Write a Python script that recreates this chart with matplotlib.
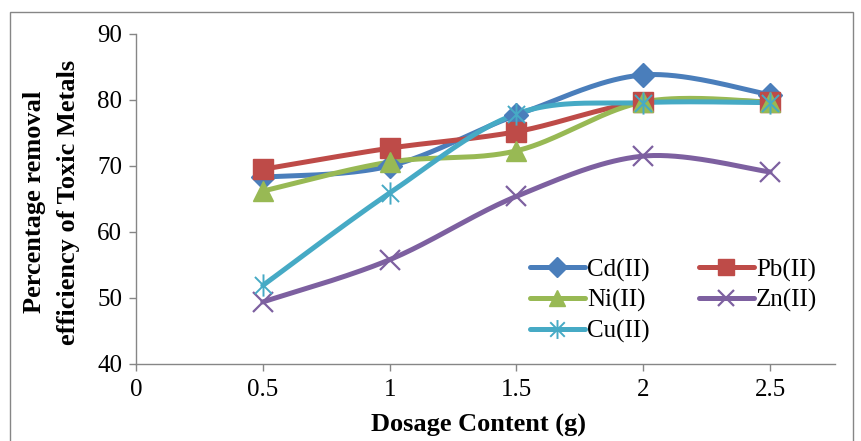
import numpy as np
import matplotlib
matplotlib.use("Agg")
import matplotlib.pyplot as plt
from matplotlib.path import Path
from matplotlib.patches import Rectangle

plt.rcParams['font.family'] = ['Liberation Serif', 'DejaVu Serif']

dosage = [0.5, 1.0, 1.5, 2.0, 2.5]
cd = [68.3, 70.0, 77.7, 83.8, 80.8]
pb = [69.5, 72.7, 75.2, 79.7, 79.7]
ni = [66.2, 70.6, 72.3, 79.7, 79.7]
zn = [49.4, 55.8, 65.4, 71.5, 69.1]
cu = [51.9, 65.9, 77.9, 79.6, 79.6]

series = [
    ("Cd(II)", cd, "#4A7EBB", "D", 12, 0),
    ("Pb(II)", pb, "#BE4B48", "s", 14, 0),
    ("Ni(II)", ni, "#98B954", "^", 14, 0),
    ("Zn(II)", zn, "#7D60A0", "x", 14, 1.6),
    ("Cu(II)", cu, "#46AAC5", None, 16, 1.4),
]

# asterisk marker: an X with a vertical stroke
ast = Path([(-1, -1), (1, 1), (-1, 1), (1, -1), (0, -1.3), (0, 1.3)],
           [Path.MOVETO, Path.LINETO, Path.MOVETO, Path.LINETO, Path.MOVETO, Path.LINETO])


def smooth(x, y, n=40):
    """Spreadsheet-style smoothed line through the points (cubic Bezier)."""
    p = np.column_stack([x, y]).astype(float)
    pts = np.vstack([p[0], p, p[-1]])
    out = []
    t = np.linspace(0, 1, n)[:, None]
    for i in range(1, len(pts) - 2):
        p0, p1 = pts[i], pts[i + 1]
        c1 = p0 + (pts[i + 1] - pts[i - 1]) / 6
        c2 = p1 - (pts[i + 2] - pts[i]) / 6
        seg = ((1 - t) ** 3) * p0 + 3 * ((1 - t) ** 2) * t * c1 + 3 * (1 - t) * t ** 2 * c2 + t ** 3 * p1
        out.append(seg if i == 1 else seg[1:])
    s = np.vstack(out)
    return s[:, 0], s[:, 1]


fig = plt.figure(figsize=(8.61, 4.41), dpi=100)
ax = fig.add_axes([136 / 861, 1 - 364 / 441, (835 - 136) / 861, (364 - 34) / 441])

handles = {}
for name, vals, color, mk, ms, mew in series:
    sx, sy = smooth(dosage, vals)
    ax.plot(sx, sy, color=color, lw=3.6, solid_capstyle='round', zorder=2)
    marker = ast if mk is None else mk
    ax.plot(dosage, vals, linestyle='none', marker=marker, ms=ms,
            color=color, mec=color, mew=mew if mew else 1, zorder=3)
    h, = ax.plot([], [], color=color, lw=3.6, solid_capstyle='round',
                 marker=marker, ms=ms * 0.85, mec=color, mew=mew if mew else 1)
    handles[name] = h

order = ["Cd(II)", "Ni(II)", "Cu(II)", "Pb(II)", "Zn(II)"]
ax.legend([handles[k] for k in order], order, ncol=2, frameon=False,
          loc='upper left', bbox_to_anchor=(0.549, 0.35), fontsize=18,
          handlelength=2.2, handletextpad=0.1, columnspacing=1.95,
          labelspacing=0.3, borderaxespad=0)

ax.set_xlim(0, 2.756)
ax.set_ylim(40, 90)
ax.set_xticks([0, 0.5, 1, 1.5, 2, 2.5])
ax.set_xticklabels(["0", "0.5", "1", "1.5", "2", "2.5"])
ax.set_yticks([40, 50, 60, 70, 80, 90])

for side in ("top", "right"):
    ax.spines[side].set_visible(False)
for side in ("left", "bottom"):
    ax.spines[side].set_color("#868686")
    ax.spines[side].set_linewidth(1.0)
ax.tick_params(axis='both', direction='out', length=5, color="#868686",
               labelsize=18, width=1.0)
ax.tick_params(axis='x', pad=6)
ax.tick_params(axis='y', pad=5)

ax.set_xlabel("Dosage Content (g)", fontsize=19, fontweight='bold')
ax.xaxis.set_label_coords(0.49, -0.152)
ax.set_ylabel("Percentage removal\nefficiency of Toxic Metals", fontsize=19,
              fontweight='bold', linespacing=1.6)
ax.yaxis.set_label_coords(-0.080, 0.49)

# chart area border
fig.patches.append(Rectangle((10 / 861, -0.05), (853 - 10) / 861, 1.05 - 12 / 441,
                             transform=fig.transFigure, fill=False,
                             edgecolor="#868686", lw=1.0))

fig.savefig("out.png", dpi=100)
